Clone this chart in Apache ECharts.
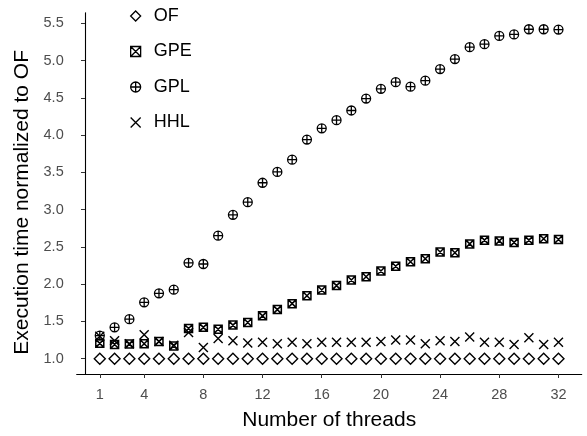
<!DOCTYPE html>
<html>
<head>
<meta charset="utf-8">
<script src="https://cdn.jsdelivr.net/npm/echarts@6/dist/echarts.min.js"></script>
<style>
  html, body { margin: 0; padding: 0; background: #fff; }
  #chart { width: 587px; height: 436px; }
</style>
</head>
<body>
<div id="chart"></div>
<script>
var threads = [];
for (var t = 1; t <= 32; t++) threads.push(t);

var xTickLabels = [1, 4, 8, 12, 16, 20, 24, 28, 32];
var yTickLabels = [1.0, 1.5, 2.0, 2.5, 3.0, 3.5, 4.0, 4.5, 5.0, 5.5];

var seriesNames = ['OF', 'GPE', 'GPL', 'HHL'];

var ofValues = [1.0, 1.0, 1.0, 1.0, 1.0, 1.0, 1.0, 1.0, 1.0, 1.0, 1.0, 1.0, 1.0, 1.0, 1.0, 1.0,
                1.0, 1.0, 1.0, 1.0, 1.0, 1.0, 1.0, 1.0, 1.0, 1.0, 1.0, 1.0, 1.0, 1.0, 1.0, 1.0];

var gpeValues = [1.205, 1.19, 1.195, 1.20, 1.23, 1.17, 1.405, 1.42, 1.395, 1.45, 1.485, 1.574,
                 1.658, 1.738, 1.845, 1.92, 1.98, 2.055, 2.10, 2.175, 2.24, 2.30, 2.34, 2.43,
                 2.42, 2.54, 2.59, 2.58, 2.56, 2.59, 2.61, 2.60];

var gplValues = [1.31, 1.42, 1.53, 1.756, 1.876, 1.925, 2.286, 2.27, 2.65, 2.93, 3.10, 3.36,
                 3.505, 3.67, 3.94, 4.09, 4.20, 4.33, 4.49, 4.62, 4.71, 4.65, 4.73, 4.886,
                 5.02, 5.18, 5.22, 5.33, 5.35, 5.42, 5.42, 5.415];

var hhlValues = [1.30, 1.24, 1.20, 1.32, 1.23, 1.18, 1.35, 1.15, 1.27, 1.24, 1.21, 1.22,
                 1.20, 1.22, 1.20, 1.22, 1.22, 1.22, 1.22, 1.23, 1.25, 1.25, 1.20, 1.24,
                 1.23, 1.29, 1.22, 1.22, 1.19, 1.28, 1.19, 1.22];

function pairs(vals) {
  return threads.map(function (t, i) { return [t, vals[i]]; });
}

var FONT = '"Liberation Sans", Arial, sans-serif';
var CLEAR = 'rgba(0,0,0,0)';

var chart = echarts.init(document.getElementById('chart'), null, { renderer: 'canvas' });

function mk(name, vals, symbol, size, bw) {
  return {
    name: name,
    type: 'scatter',
    data: pairs(vals),
    symbol: symbol,
    symbolSize: size,
    itemStyle: { color: CLEAR, borderColor: '#000', borderWidth: bw, opacity: 1 },
    emphasis: { disabled: true }
  };
}

chart.setOption({
  animation: false,
  backgroundColor: '#fff',
  textStyle: { fontFamily: FONT },
  grid: { left: 76.7, right: 5.3, top: 12.7, bottom: 60.3, containLabel: false },
  legend: {
    orient: 'vertical',
    left: 125,
    top: 2,
    itemWidth: 10,
    itemHeight: 10,
    itemGap: 17.5,
    data: seriesNames,
    textStyle: { fontSize: 18, color: '#000', fontFamily: FONT, padding: [0, 0, 0, 8] },
    itemStyle: { borderWidth: 1.3, borderColor: '#000', color: CLEAR },
    selectedMode: false
  },
  xAxis: {
    type: 'value',
    min: -0.56,
    max: 33.57,
    name: 'Number of threads',
    nameLocation: 'middle',
    nameGap: 36,
    nameTextStyle: { fontSize: 21, color: '#000', fontFamily: FONT },
    axisLine: { show: true, lineStyle: { color: '#000', width: 1.1 } },
    axisTick: { show: true, length: 4, lineStyle: { color: '#333', width: 1 }, customValues: xTickLabels },
    axisLabel: { fontSize: 14.5, color: '#4d4d4d', margin: 13, fontFamily: FONT, customValues: xTickLabels },
    splitLine: { show: false }
  },
  yAxis: {
    type: 'value',
    min: 0.794,
    max: 5.642,
    name: 'Execution time normalized to OF',
    nameLocation: 'middle',
    nameGap: 43,
    nameTextStyle: { fontSize: 21, color: '#000', fontFamily: FONT, padding: [0, 18, 0, 0] },
    axisLine: { show: true, lineStyle: { color: '#000', width: 1.1 } },
    axisTick: { show: true, length: 4, lineStyle: { color: '#333', width: 1 }, customValues: yTickLabels },
    axisLabel: {
      fontSize: 14.5, color: '#4d4d4d', margin: 13, fontFamily: FONT, customValues: yTickLabels,
      formatter: function (v) { return Number(v).toFixed(1); }
    },
    splitLine: { show: false }
  },
  series: [
    mk('OF', ofValues, 'diamond', 11, 1.4),
    mk('GPE', gpeValues, 'path://M0,0H10V10H0Z M0,0L10,10 M10,0L0,10', 8, 1.5),
    mk('GPL', gplValues, 'path://M0,5A5,5,0,1,1,10,5A5,5,0,1,1,0,5Z M5,0V10 M0,5H10', 9, 1.3),
    mk('HHL', hhlValues, 'path://M0,0L10,10M10,0L0,10', 9, 1.4)
  ]
});
</script>
</body>
</html>
